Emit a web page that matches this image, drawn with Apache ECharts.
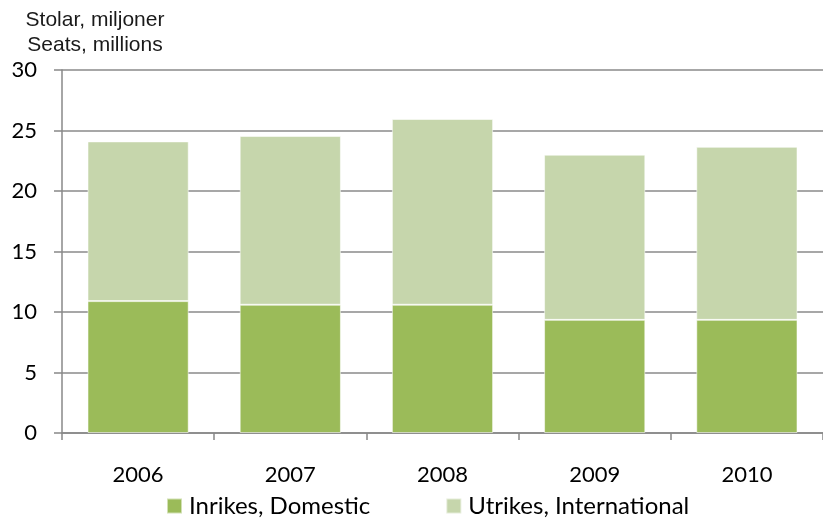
<!DOCTYPE html>
<html>
<head>
<meta charset="utf-8">
<script src="https://cdn.jsdelivr.net/npm/echarts@6/dist/echarts.min.js"></script>
<style>html,body{margin:0;padding:0;background:#fff}#c{width:823px;height:519px}</style>
</head>
<body>
<div id="c"></div>
<script>
const categories = ['2006', '2007', '2008', '2009', '2010'];
const domestic = [10.9, 10.6, 10.6, 9.35, 9.35];
const international = [13.2, 13.95, 15.35, 13.65, 14.3];
const yTicks = [0, 5, 10, 15, 20, 25, 30];
const seriesNames = ['Inrikes, Domestic', 'Utrikes, International'];
const titleLines = ['Stolar, miljoner', 'Seats, millions'];

const chart = echarts.init(document.getElementById('c'), null, {renderer: 'canvas'});
const font = 'Lato, "Open Sans", sans-serif';
const titleFont = '21px "Liberation Sans", Arial, sans-serif';
chart.setOption({
  animation: false,
  backgroundColor: '#fff',
  graphic: [
    {type: 'text', x: 95, y: 10, style: {text: titleLines[0], fill: '#1a1a1a', font: titleFont, align: 'center', verticalAlign: 'top'}},
    {type: 'text', x: 95, y: 35, style: {text: titleLines[1], fill: '#1a1a1a', font: titleFont, align: 'center', verticalAlign: 'top'}}
  ],
  legend: {
    data: seriesNames,
    left: 166,
    top: 494,
    padding: 0,
    icon: 'rect',
    itemWidth: 15,
    itemHeight: 15,
    itemGap: 75,
    textStyle: {fontFamily: font, fontSize: 24, color: '#000', padding: [0, 0, 0, 2]}
  },
  grid: {left: 62, top: 70, width: 767, height: 363, containLabel: false},
  xAxis: {
    type: 'category',
    data: categories,
    axisLine: {lineStyle: {color: '#888', width: 1.5}},
    axisTick: {show: true, length: 7, lineStyle: {color: '#888', width: 1.5}},
    axisLabel: {fontFamily: font, fontSize: 22, color: '#000', margin: 31}
  },
  yAxis: {
    type: 'value',
    min: yTicks[0],
    max: yTicks[yTicks.length - 1],
    interval: 5,
    axisLine: {show: true, lineStyle: {color: '#888', width: 1.5}},
    axisTick: {show: true, length: 8, lineStyle: {color: '#888', width: 1.5}},
    splitLine: {lineStyle: {color: '#8a8a8a', width: 1.5}},
    axisLabel: {fontFamily: font, fontSize: 22, color: '#000', margin: 25}
  },
  series: [
    {
      name: seriesNames[0], type: 'bar', stack: 'total', data: domestic,
      barCategoryGap: '33.5%',
      itemStyle: {color: '#9BBB59', borderColor: 'rgba(255,255,255,0.55)', borderWidth: 1}
    },
    {
      name: seriesNames[1], type: 'bar', stack: 'total', data: international,
      barCategoryGap: '33.5%',
      itemStyle: {color: '#C6D6AC', borderColor: 'rgba(255,255,255,0.55)', borderWidth: 1}
    }
  ]
});
</script>
</body>
</html>
